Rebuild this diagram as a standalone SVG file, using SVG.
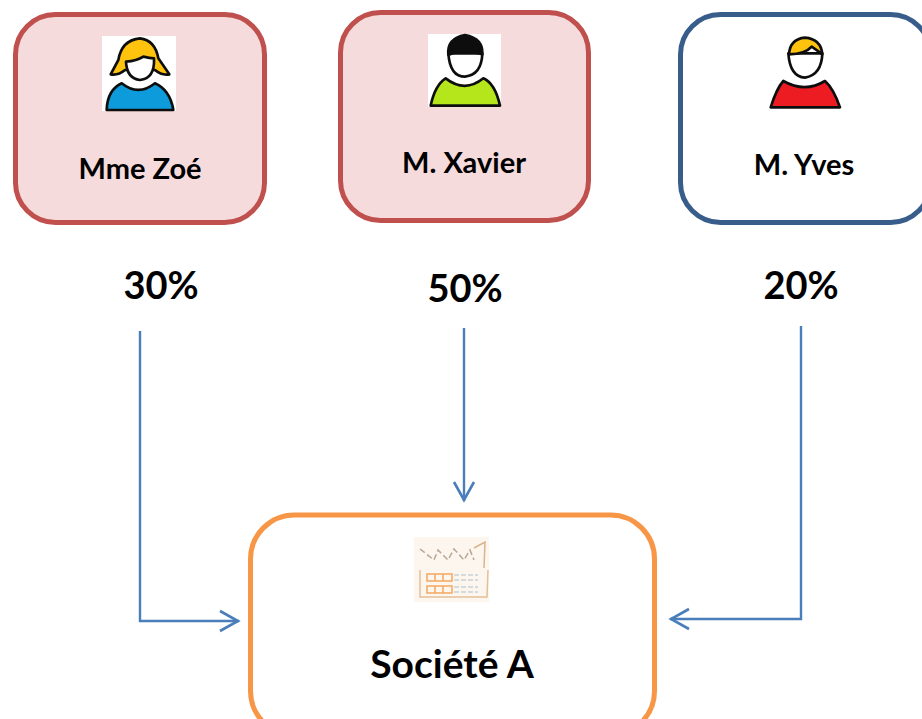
<svg xmlns="http://www.w3.org/2000/svg" width="922" height="719" viewBox="0 0 922 719">
<defs>
<marker id="arr" viewBox="0 0 24 24" refX="22" refY="12" markerWidth="24" markerHeight="24" markerUnits="userSpaceOnUse" orient="auto"><path d="M3,2 L21,12 L3,22" fill="none" stroke="#4a7ebb" stroke-width="2.6"/></marker>
<filter id="soft" x="-5%" y="-5%" width="110%" height="110%"><feGaussianBlur stdDeviation="1.5"/></filter>
<filter id="soft2" x="-5%" y="-5%" width="110%" height="110%"><feGaussianBlur stdDeviation="0.6"/></filter>
</defs>
<style>
text{font-family:"Lato","Liberation Sans",sans-serif;font-weight:700;fill:#000;text-anchor:middle}
.name{font-size:29px}
.pct{font-size:38px}
.red{fill:#f5dbdb;stroke:#c0504d;stroke-width:5}
.blue{fill:#fff;stroke:#385d8a;stroke-width:5}
.org{fill:#fff;stroke:#f79646;stroke-width:5}
.conn{fill:none;stroke:#4a7ebb;stroke-width:2.4;marker-end:url(#arr)}
.ic{stroke:#111;stroke-width:8;stroke-linejoin:round}
</style>
<g id="node-zoe">
<rect class="red" x="15.500" y="14.500" width="249" height="208" rx="40"/>
<rect x="102" y="36" width="74" height="75" fill="#fff"/>
<g transform="translate(90,25) scale(.3333)" filter="url(#soft)">
<path class="ic" fill="#0f9bdc" d="M50,255 Q52,195 95,175 Q145,215 195,175 Q240,195 250,255Z"/>
<path class="ic" fill="#ffc20e" d="M62,148 L85,105 Q95,45 150,40 Q195,45 205,100 L238,148 Q215,152 195,135 L105,135 Q85,152 62,148Z"/>
<path class="ic" fill="#fff" d="M108,110 Q140,108 160,95 Q180,100 192,100 Q195,160 150,165 Q110,160 108,110Z"/>
</g>
<text class="name" x="140" y="179">Mme Zoé</text>
</g>
<g id="node-xavier">
<rect class="red" x="340.500" y="12.500" width="248" height="208" rx="40"/>
<rect x="428" y="34" width="73" height="73" fill="#fff"/>
<g transform="translate(415,25) scale(.3333)" filter="url(#soft)">
<path class="ic" fill="#b5e61d" d="M47,242 Q60,180 92,160 Q150,205 205,160 Q240,175 255,242Z"/>
<path class="ic" fill="#fff" d="M100,85 Q105,155 150,155 Q200,150 202,85Z"/>
<path class="ic" fill="#0a0a0a" d="M100,90 Q95,40 150,30 Q205,40 202,88 Q170,78 150,80 Q120,80 100,90Z"/>
</g>
<text class="name" x="464" y="173">M. Xavier</text>
</g>
<g id="node-yves">
<rect class="blue" x="680.500" y="14.500" width="250" height="208" rx="40"/>
<g transform="translate(755,25) scale(.3333)" filter="url(#soft)">
<path class="ic" fill="#ed1c24" d="M47,247 Q65,190 85,168 Q150,205 210,168 Q235,190 255,247Z"/>
<path class="ic" fill="#fff" d="M100,85 Q105,155 150,158 Q200,150 202,85Z"/>
<path class="ic" fill="#ffc20e" d="M102,88 Q105,42 150,38 Q198,42 202,88 Q185,75 170,65 Q150,88 102,88Z"/>
</g>
<text class="name" x="804" y="175">M. Yves</text>
</g>
<g id="node-societe">
<rect class="org" x="250.500" y="515" width="404" height="220" rx="44"/>
<rect x="414" y="537" width="75" height="65" fill="#fdf6ee" filter="url(#soft2)"/>
<g fill="none" stroke-width="1.500" filter="url(#soft2)">
<path stroke="#b9a694" stroke-dasharray="6 3" d="M420,549 L434,560 L438,550 L448,560 L454,549 L464,560 L470,550 L474,560"/>
<path stroke="#d9b48c" d="M474,548 L485,542 L484,568"/>
<path stroke="#e4c09a" d="M488,570 L487,597 L420,597 L420,570"/>
<path stroke="#f2a860" d="M427,574 h25 v7 h-25z M427,586 h25 v7 h-25z M435,574 v7 M443,574 v7 M435,586 v7 M443,586 v7"/>
<path stroke="#c9d1d6" stroke-dasharray="5 2" d="M454,575 h24 M454,580 h24 M454,587 h24 M454,592 h24"/>
</g>
<text x="452" y="678" font-size="39">Société A</text>
</g>
<g id="labels">
<text class="pct" x="161" y="299">30%</text>
<text class="pct" x="465" y="302">50%</text>
<text class="pct" x="801" y="299">20%</text>
</g>
<g id="connectors">
<path class="conn" d="M140,331 V621 H239"/>
<path class="conn" d="M464,328 V501"/>
<path class="conn" d="M801,326 V619 H670"/>
</g>
</svg>
